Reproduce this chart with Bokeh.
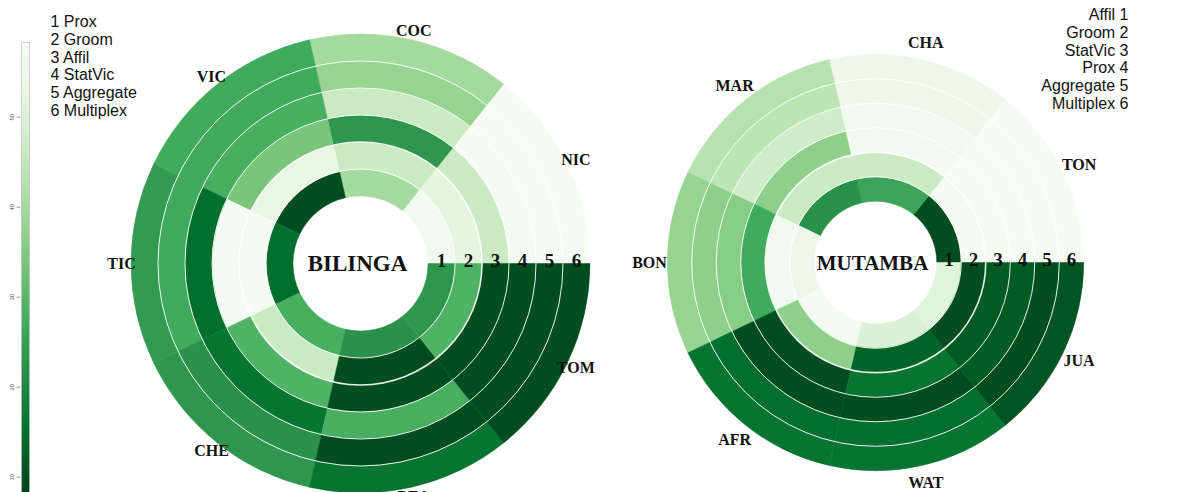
import numpy as np
from bokeh.plotting import figure
from bokeh.models import Range1d, LinearColorMapper, ColorBar, ColumnDataSource, FixedTicker
from bokeh.palettes import Greens9
from bokeh.core.properties import value
from bokeh.embed import file_html
from bokeh.resources import INLINE

# ---------------- data ----------------
bil_layers = ["Prox", "Groom", "Affil", "StatVic", "Aggregate", "Multiplex"]
mut_layers = ["Affil", "Groom", "StatVic", "Prox", "Aggregate", "Multiplex"]

bil_ids = ["NIC", "COC", "VIC", "TIC", "CHE", "BEA", "TOM"]
mut_ids = ["TON", "CHA", "MAR", "BON", "AFR", "WAT", "JUA"]

# BILINGA, one list per ring (inner -> outer), ids in bil_ids order
bil_prox      = [56, 40, 10, 15, 28, 22, 23]
bil_groom     = [52, 46, 53, 57, 46, 10, 29]
bil_affil     = [46, 23, 34, 57, 29, 10, 10]
bil_statvic   = [57, 46, 28, 15, 16, 28, 10]
bil_aggregate = [58, 38, 27, 27, 22, 10, 10]
bil_multiplex = [58, 40, 27, 24, 23, 16, 10]

# MUTAMBA, one list per ring (inner -> outer), ids in mut_ids order
mut_affil     = [10, 26, 22, 55, 57, 50, 51]
mut_groom     = [57, 46, 46, 56, 37, 13, 10]
mut_statvic   = [58, 56, 37, 27, 10, 16, 12]
mut_prox      = [58, 56, 47, 36, 10, 10, 12]
mut_aggregate = [58, 55, 44, 37, 15, 15, 10]
mut_multiplex = [58, 55, 43, 38, 16, 16, 11]

cbar_ticks = [10, 20, 30, 40, 50]
cbar_low, cbar_high = 8.3, 58.3

bil_rings = [bil_prox, bil_groom, bil_affil, bil_statvic, bil_aggregate, bil_multiplex]
mut_rings = [mut_affil, mut_groom, mut_statvic, mut_prox, mut_aggregate, mut_multiplex]

# ---------------- palette ----------------
def interp(pal, n):
    cols = np.array([[int(c[i:i + 2], 16) for i in (1, 3, 5)] for c in pal], float)
    xs = np.linspace(0, 1, len(pal))
    t = np.linspace(0, 1, n)
    out = np.stack([np.interp(t, xs, cols[:, k]) for k in range(3)], 1)
    return ["#%02x%02x%02x" % tuple(int(round(v)) for v in row) for row in out]

g = list(Greens9)
if g[0].lower() != "#00441b":
    g = g[::-1]
palette = interp(g, 256)  # dark (low) -> light (high)
mapper = LinearColorMapper(palette=palette, low=cbar_low, high=cbar_high)

# ---------------- figure ----------------
W, H = 1186, 492
p = figure(width=W, height=H, x_range=Range1d(0, W), y_range=Range1d(492 - H, 492),
           output_backend="svg", toolbar_location=None, min_border=0,
           x_axis_location=None, y_axis_location=None, outline_line_color=None)
p.xgrid.visible = False
p.ygrid.visible = False
p.background_fill_color = "white"

def py(y):  # reference pixel y -> data y
    return 492 - y

SERIF = value("Liberation Serif")
SANS = value("Liberation Sans")

def draw_chart(cx, cy, ring_w, ids, rings, title, title_size, label_r):
    hole = 2.5 * ring_w
    n = len(ids)
    step = 2 * np.pi / n
    d = dict(ri=[], ro=[], a0=[], a1=[], v=[])
    for k, ring in enumerate(rings):
        for j, v in enumerate(ring):
            d["ri"].append(hole + k * ring_w)
            d["ro"].append(hole + (k + 1) * ring_w)
            d["a0"].append(j * step)
            d["a1"].append((j + 1) * step)
            d["v"].append(v)
    src = ColumnDataSource(d)
    p.annular_wedge(x=cx, y=cy, inner_radius="ri", outer_radius="ro",
                    start_angle="a0", end_angle="a1", source=src,
                    fill_color={"field": "v", "transform": mapper},
                    line_color={"field": "v", "transform": mapper}, line_width=0.5)
    # white separators between rings
    for k in range(1, len(rings)):
        p.circle(x=cx, y=cy, radius=hole + k * ring_w, fill_color=None,
                 line_color="white", line_width=1.6 if k == 2 else 1.0, line_alpha=0.9)
    # sector labels
    mids = (np.arange(n) + 0.5) * step
    p.text(x=list(cx + label_r * np.cos(mids)), y=list(cy + label_r * np.sin(mids)), text=ids,
           text_font=SERIF, text_font_style="bold", text_font_size="16px",
           text_align="center", text_baseline="middle", text_color="#111111")
    # ring numbers
    nums = [str(k + 1) for k in range(len(rings))]
    rx = [cx + hole + (k + 0.5) * ring_w for k in range(len(rings))]
    p.text(x=rx, y=[cy + 3] * len(rings), text=nums, text_font=SERIF, text_font_style="bold",
           text_font_size="19px", text_align="center", text_baseline="alphabetic",
           text_color="#111111")
    # title
    p.text(x=[cx - 3], y=[cy], text=[title], text_font=SERIF, text_font_style="bold",
           text_font_size=title_size, text_align="center", text_baseline="middle",
           text_color="#111111")

draw_chart(360, py(263), 27, bil_ids, bil_rings, "BILINGA", "23px", 239)
draw_chart(875, py(262), 24.5, mut_ids, mut_rings, "MUTAMBA", "21px", 226)

# ---------------- legends ----------------
left_txt = ["%d %s" % (i + 1, s) for i, s in enumerate(bil_layers)]
p.text(x=[50] * 6, y=[py(21 + 17.8 * i) for i in range(6)], text=left_txt, text_font=SANS,
       text_font_size="16px", text_align="left", text_baseline="middle", text_color="#111111")
right_txt = ["%s %d" % (s, i + 1) for i, s in enumerate(mut_layers)]
p.text(x=[1128] * 6, y=[py(14 + 17.8 * i) for i in range(6)], text=right_txt, text_font=SANS,
       text_font_size="16px", text_align="right", text_baseline="middle", text_color="#111111")

# ---------------- colour bar ----------------
bar_top = 42
bar_h = H - bar_top
cb = ColorBar(color_mapper=mapper, location=(21, 0), width=8, height=bar_h, padding=0, margin=0,
              ticker=FixedTicker(ticks=[]), major_tick_line_color=None, minor_tick_line_color=None,
              bar_line_color="#bbbbbb", bar_line_width=0.6,
              background_fill_alpha=0, border_line_color=None)
p.add_layout(cb)
ty = [(492 - H) + (t - cbar_low) / (cbar_high - cbar_low) * bar_h for t in cbar_ticks]
p.segment(x0=[16] * len(ty), y0=ty, x1=[20] * len(ty), y1=ty, line_color="#888888", line_width=0.8)
p.text(x=[11] * len(ty), y=ty, text=[str(t) for t in cbar_ticks], angle=np.pi / 2,
       text_font=SANS, text_font_size="6px", text_align="center", text_baseline="middle",
       text_color="#555555")

open("out.html", "w").write(file_html(p, INLINE))
